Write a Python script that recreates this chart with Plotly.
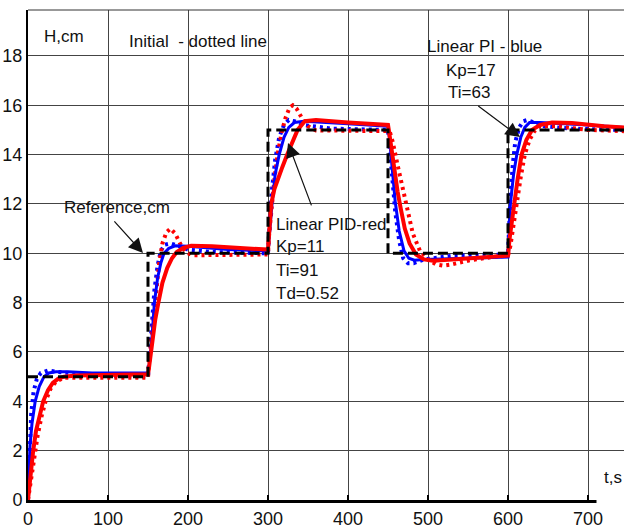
import plotly.graph_objects as go

# ---------------- data ----------------
ref_t = [0, 150, 150, 300, 300, 450, 450, 600, 600, 745]
ref_h = [5, 5, 10, 10, 15, 15, 10, 10, 15, 15]

pi_t = [0, 1, 2.5, 5, 9, 14, 20, 26, 35, 50, 80, 120, 150,
        152, 155, 158, 162, 166, 170, 176, 184, 200, 250, 300,
        302, 305, 309, 314, 320, 326, 333, 345, 400, 450,
        452, 455, 459, 464, 470, 476, 483, 495, 550, 600,
        601, 603, 607, 611, 616, 621, 627, 640, 700, 745]
pi_h = [0, 1.2, 2.2, 3.1, 4.0, 4.6, 5.0, 5.15, 5.2, 5.2, 5.15, 5.15, 5.15,
        5.6, 6.6, 8.0, 9.0, 9.6, 10.0, 10.2, 10.3, 10.28, 10.15, 10.1,
        10.9, 12.0, 13.2, 14.0, 14.7, 15.1, 15.3, 15.35, 15.25, 15.15,
        14.6, 13.6, 12.1, 10.9, 10.1, 9.8, 9.72, 9.75, 9.8, 9.85,
        10.5, 12.0, 13.2, 14.0, 14.7, 15.1, 15.3, 15.3, 15.2, 15.1]

pi0_t = [0, 2, 4, 7, 11, 16, 25, 35, 50, 80, 150,
         152, 155, 158, 162, 166, 171, 178, 188, 200, 230, 300,
         302, 305, 309, 314, 320, 326, 333, 345, 380, 450,
         452, 455, 459, 464, 469, 475, 482, 495, 530, 600,
         601, 603, 606, 609, 614, 619, 624, 632, 645, 680, 745]
pi0_h = [0, 2.2, 3.5, 4.4, 4.9, 5.15, 5.25, 5.2, 5.15, 5.05, 5.0,
         6.0, 7.3, 8.5, 9.5, 10.1, 10.35, 10.4, 10.3, 10.15, 10.05, 10.0,
         11.2, 12.6, 13.8, 14.7, 15.2, 15.4, 15.35, 15.2, 15.05, 15.0,
         14.3, 13.0, 11.7, 10.5, 9.8, 9.6, 9.6, 9.75, 9.9, 9.95,
         11.0, 12.3, 13.6, 14.5, 15.1, 15.35, 15.4, 15.3, 15.15, 15.05, 15.0]

pid_t = [0, 3, 6.5, 10, 14, 19, 25, 31, 38, 45, 60, 100, 150,
         151, 153, 155, 159, 163, 168, 174, 180, 186, 194, 204, 230, 270, 300,
         301, 302.5, 304, 308, 312, 318, 324, 330, 337, 346, 360, 400, 450,
         451, 454, 458, 462, 466, 471, 477, 485, 495, 506, 530, 570, 600,
         602, 605, 608, 612, 617, 623, 630, 640, 655, 680, 720, 745]
pid_h = [0, 1.0, 2.0, 2.8, 3.4, 4.0, 4.45, 4.75, 4.92, 5.0, 5.05, 5.08, 5.1,
         5.3, 5.8, 6.4, 7.3, 8.0, 8.8, 9.4, 9.8, 10.05, 10.22, 10.3, 10.28, 10.2, 10.15,
         10.6, 11.3, 12.0, 12.6, 13.0, 13.5, 14.0, 14.5, 15.0, 15.35, 15.4, 15.3, 15.2,
         15.0, 14.3, 13.3, 12.5, 11.8, 11.0, 10.4, 9.95, 9.75, 9.7, 9.75, 9.85, 9.9,
         10.6, 11.4, 12.1, 13.0, 14.0, 14.6, 15.0, 15.2, 15.3, 15.28, 15.15, 15.1]

pid0_t = [0, 4, 8, 12, 17, 22, 28, 35, 45, 60, 150,
          151, 154, 157, 160, 164, 168, 173, 178, 184, 190, 197, 205, 250, 300,
          301, 304, 308, 312, 317, 322, 327, 331, 336, 342, 350, 360, 400, 450,
          452.5, 456, 462.5, 468, 473, 481, 490, 500, 510, 519, 530, 550, 580, 600,
          603, 606, 611, 616, 621, 627, 633, 640, 660, 700, 745]
pid0_h = [0, 0.9, 1.8, 2.6, 3.4, 4.0, 4.5, 4.8, 4.95, 4.95, 4.95,
          5.5, 6.5, 7.6, 8.6, 9.6, 10.4, 10.85, 11.0, 10.8, 10.4, 10.05, 9.92, 9.95, 9.95,
          10.6, 11.8, 13.0, 14.0, 14.9, 15.5, 15.9, 16.0, 15.85, 15.5, 15.15, 14.98, 14.97, 14.95,
          14.9, 14.5, 13.5, 12.7, 12.0, 10.8, 10.1, 9.75, 9.55, 9.5, 9.55, 9.7, 9.85, 9.9,
          10.3, 11.0, 12.0, 13.1, 14.0, 14.6, 14.95, 15.15, 15.15, 15.0, 14.95]

x_ticks = [0, 100, 200, 300, 400, 500, 600, 700]
y_ticks = [0, 2, 4, 6, 8, 10, 12, 14, 16, 18]

FONT = "Liberation Sans, Arial, sans-serif"
RED = "#ff0000"
BLUE = "#0000ff"

fig = go.Figure()
fig.add_trace(go.Scatter(x=pi0_t, y=pi0_h, mode="lines",
                         line=dict(color=BLUE, width=4, dash="3px,4px"), name="PI initial"))
fig.add_trace(go.Scatter(x=pid0_t, y=pid0_h, mode="lines",
                         line=dict(color=RED, width=4, dash="3px,4px"), name="PID initial"))
fig.add_trace(go.Scatter(x=pi_t, y=pi_h, mode="lines",
                         line=dict(color=BLUE, width=3), name="Linear PI"))
fig.add_trace(go.Scatter(x=pid_t, y=pid_h, mode="lines",
                         line=dict(color=RED, width=4), name="Linear PID"))
fig.add_trace(go.Scatter(x=ref_t, y=ref_h, mode="lines",
                         line=dict(color="black", width=3, dash="10px,5px"), name="Reference"))

def txt(x, y, s, anchor="left", size=17):
    fig.add_annotation(x=x, y=y, xref="x", yref="y", text=s, showarrow=False,
                       xanchor=anchor, yanchor="middle", borderpad=0,
                       font=dict(family=FONT, size=size, color="#111"))

def arrow(hx, hy, tx, ty):
    fig.add_annotation(x=hx, y=hy, ax=tx, ay=ty, xref="x", yref="y",
                       axref="x", ayref="y", text="", showarrow=True,
                       arrowhead=2, arrowsize=2.4, arrowwidth=1.2,
                       arrowcolor="#111")

txt(18.75, 18.77, "H,cm")
txt(125, 18.57, "Initial  - dotted line")
txt(497.5, 18.4, "Linear PI - blue")
txt(521, 17.39, "Kp=17")
txt(523.7, 16.5, "Ti=63")
txt(43.75, 11.84, "Reference,cm")
txt(308.75, 11.15, "Linear PID-red")
txt(308.75, 10.26, "Kp=11")
txt(308.75, 9.32, "Ti=91")
txt(308.75, 8.39, "Td=0.52")

arrow(143.75, 10.01, 106.25, 11.35)
arrow(325, 14.47, 355, 11.88)
arrow(615, 14.71, 561, 16.01)

# "t,s" label in a white box that hides the end of the axis line
fig.add_annotation(x=710, y=1.42, xref="x", yref="y", text="t,s", showarrow=False,
                   xanchor="left", yanchor="top", width=28, height=40,
                   align="center", valign="top", bgcolor="white", borderpad=2,
                   font=dict(family=FONT, size=17, color="#111"))

fig.add_shape(type="line", xref="paper", yref="paper", x0=0, x1=1, y0=1, y1=1,
              line=dict(color="#333", width=1))

fig.update_layout(
    width=624, height=529,
    margin=dict(l=28, r=0, t=10, b=29, pad=0),
    paper_bgcolor="white", plot_bgcolor="white",
    showlegend=False,
    font=dict(family=FONT, size=18, color="#111"),
    xaxis=dict(range=[0, 745], tickvals=x_ticks, ticktext=[str(v) for v in x_ticks],
               automargin=False,
               showgrid=True, gridcolor="#444", gridwidth=1, zeroline=False,
               showline=True, linecolor="black", linewidth=3,
               ticks="inside", ticklen=5, tickwidth=2, tickcolor="black",
               tickfont=dict(family=FONT, size=18, color="#111")),
    yaxis=dict(range=[0, 19.86], tickvals=y_ticks, ticktext=[str(v) for v in y_ticks],
               automargin=False,
               showgrid=True, gridcolor="#444", gridwidth=1, zeroline=False,
               showline=True, linecolor="black", linewidth=2,
               ticks="", tickfont=dict(family=FONT, size=18, color="#111")),
)

# remove the default page margin so the figure fills the 624x529 window exactly
fig.write_html("out.html", config={"displayModeBar": False},
               post_script="document.body.style.margin='0px';"
                           "document.body.style.overflow='hidden';")
